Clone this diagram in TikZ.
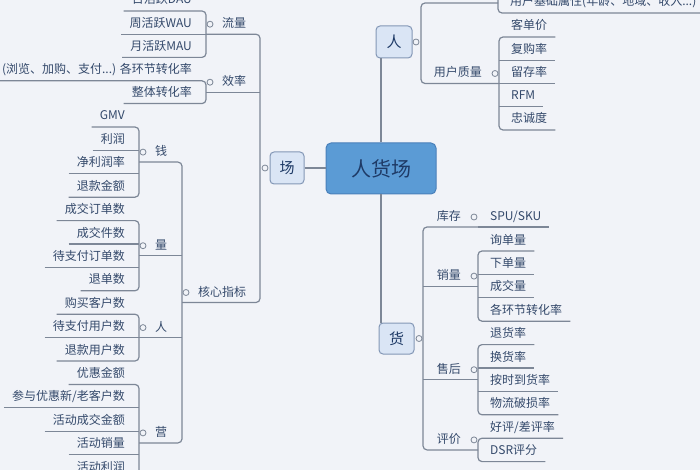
\documentclass[tikz,border=0pt]{standalone}
\usepackage{fontspec}
\setmainfont{Noto Sans CJK SC}
\definecolor{bgc}{HTML}{F1F3F8}
\definecolor{lncol}{HTML}{7D8797}
\definecolor{txc}{HTML}{34496B}
\definecolor{hubfill}{HTML}{5B9BD5}
\definecolor{hubdraw}{HTML}{4A80BA}
\definecolor{hubtx}{HTML}{1E3A66}
\definecolor{boxfill}{HTML}{DAE5F5}
\definecolor{boxdraw}{HTML}{8397B6}
\tikzset{
  lnk/.style={draw=lncol, line width=1.2pt, rounded corners=4pt},
  lt/.style={font=\fontsize{12}{14}\selectfont, text=txc, inner sep=0pt, text height=0.85em, text depth=0.15em},
  dot/.style={circle, draw=lncol, fill=bgc, line width=0.8pt, minimum size=6pt, inner sep=0pt},
  hubbox/.style={draw=hubdraw, fill=hubfill, line width=1pt, rounded corners=5pt, minimum width=110pt, minimum height=51pt, font=\fontsize{20}{24}\selectfont, text=hubtx},
  sbox/.style={draw=boxdraw, fill=boxfill, line width=1pt, rounded corners=4pt, minimum width=35pt, minimum height=32pt, font=\fontsize{15}{18}\selectfont, text=hubtx}
}
\newcommand\LLeaf[4]{%
  \node[lt, anchor=east] (#1) at ({#2-14},{#3-10.5}) {#4};
  \path (#1.west) ++(-8,10.5) coordinate (#1-u);
  \coordinate (#1-b) at (#2,#3);}
\newcommand\RLeaf[4]{%
  \node[lt, anchor=west] (#1) at ({#2+12},{#3-10.5}) {#4};
  \path (#1.east) ++(8,10.5) coordinate (#1-u);
  \coordinate (#1-b) at (#2,#3);}
\newcommand\LPar[5]{%
  \node[lt, anchor=west] (#1) at ({#2+16},{#4-10}) {#5};
  \node[dot] (#1-o) at ({#2+4},{#4-10}) {};
  \coordinate (#1-b) at (#2,#4);
  \coordinate (#1-p) at (#3,#4);}
\newcommand\RPar[5]{%
  \node[lt, anchor=east] (#1) at ({#2-17},{#4-10}) {#5};
  \node[dot] (#1-o) at ({#2-4},{#4-10}) {};
  \coordinate (#1-b) at (#2,#4);
  \coordinate (#1-p) at (#3,#4);}
\begin{document}
\begin{tikzpicture}[x=1pt,y=-1pt]
\useasboundingbox (0,0) rectangle (700,470);
\fill[bgc] (0,0) rectangle (700,470);
\clip (0,0) rectangle (700,470);

% ---------- centre ----------
\node[hubbox] (hub) at (381,168.5) {人货场};
\node[sbox, minimum width=34pt] (chang) at (287,168) {场};
\node[sbox, minimum width=36pt] (ren) at (394,42) {人};
\node[sbox, minimum height=31pt] (huo) at (396.5,338.5) {货};
\draw[lnk] (chang.east) -- (chang.east -| hub.west);
\draw[lnk] (hub.north) -- (hub.north |- ren.south);
\draw[lnk] (hub.south) -- (hub.south |- huo.north);
\node[dot] (chang-o) at (265,168) {};
\node[dot] (ren-o) at (416,42) {};
\node[dot] (huo-o) at (419,338.5) {};

% ---------- 场 : 流量 ----------
\LLeaf{dau}{206}{11}{日活跃DAU}
\LLeaf{wau}{206}{34.2}{周活跃WAU}
\LLeaf{mau}{206}{57.4}{月活跃MAU}
\LPar{flow}{206}{260}{34.2}{流量}
\draw[lnk] (dau-u) -- (dau-b) -- (mau-b) -- (mau-u);
\draw[lnk] (wau-u) -- (wau-b);

% ---------- 场 : 效率 ----------
\LLeaf{hjz}{206}{80.8}{(浏览、加购、支付...) 各环节转化率}
\LLeaf{ztz}{206}{103.6}{整体转化率}
\LPar{eff}{206}{260}{92.2}{效率}
\draw[lnk] (hjz-u) -- (hjz-b) -- (ztz-b) -- (ztz-u);
\draw[lnk] (eff-b) -- (eff-p);

% ---------- 场 : 核心指标 ----------
\LPar{core}{182}{260}{302.5}{核心指标}
\draw[lnk] (flow-b) -- (flow-p) -- (core-p) -- (core-b);

% 钱
\LLeaf{gmv}{139}{127}{GMV}
\LLeaf{lr}{139}{150.4}{利润}
\LLeaf{jlr}{139}{173.8}{净利润率}
\LLeaf{tkje}{139}{197.2}{退款金额}
\LPar{money}{139}{182}{162.1}{钱}
\draw[lnk] (gmv-u) -- (gmv-b) -- (tkje-b) -- (tkje-u);
\draw[lnk] (lr-u) -- (lr-b);
\draw[lnk] (jlr-u) -- (jlr-b);

% 量
\LLeaf{cjdd}{139}{220.6}{成交订单数}
\LLeaf{cjjs}{139}{244}{成交件数}
\LLeaf{dzfdd}{139}{267.4}{待支付订单数}
\LLeaf{tds}{139}{290.8}{退单数}
\LPar{qty}{139}{182}{255.7}{量}
\draw[lnk] (cjdd-u) -- (cjdd-b) -- (tds-b) -- (tds-u);
\draw[lnk] (cjjs-u) -- (cjjs-b);
\draw[lnk] (dzfdd-u) -- (dzfdd-b);

% 人 (left)
\LLeaf{gmkh}{139}{314.2}{购买客户数}
\LLeaf{dzfyh}{139}{337.6}{待支付用户数}
\LLeaf{tkyh}{139}{361}{退款用户数}
\LPar{ppl}{139}{182}{337.6}{人}
\draw[lnk] (gmkh-u) -- (gmkh-b) -- (tkyh-b) -- (tkyh-u);
\draw[lnk] (dzfyh-u) -- (dzfyh-b);

% 营
\LLeaf{yhje}{139}{384.4}{优惠金额}
\LLeaf{cyyh}{139}{407.8}{参与优惠新/老客户数}
\LLeaf{hdcj}{139}{431.2}{活动成交金额}
\LLeaf{hdxl}{139}{454.6}{活动销量}
\LLeaf{hdlr}{139}{478}{活动利润}
\LPar{mkt}{139}{182}{442.9}{营}
\coordinate (mkt-end) at (139,520);
\draw[lnk] (yhje-u) -- (yhje-b) -- (mkt-end);
\draw[lnk] (cyyh-u) -- (cyyh-b);
\draw[lnk] (hdcj-u) -- (hdcj-b);
\draw[lnk] (hdxl-u) -- (hdxl-b);
\draw[lnk] (hdlr-u) -- (hdlr-b);

\draw[lnk] (money-b) -- (money-p) -- (mkt-p) -- (mkt-b);
\draw[lnk] (qty-b) -- (qty-p);
\draw[lnk] (ppl-b) -- (ppl-p);

% ---------- 人 (right) ----------
\RLeaf{jcsx}{498}{13}{用户基础属性(年龄、地域、收入...)}
\coordinate (jcsx-top) at (498,-20);
\draw[lnk] (jcsx-top) -- (jcsx-b) -- (jcsx-u);
\coordinate (hid-b) at (498,3);
\coordinate (hid-p) at (421,3);
\RPar{uq}{499}{421}{83.5}{用户质量}
\draw[lnk] (hid-b) -- (hid-p) -- (uq-p) -- (uq-b);

\RLeaf{kdj}{499}{37}{客单价}
\RLeaf{fgl}{499}{60.3}{复购率}
\RLeaf{lcl}{499}{83.5}{留存率}
\RLeaf{rfm}{499}{106.8}{RFM}
\RLeaf{zcd}{499}{130}{忠诚度}
\draw[lnk] (kdj-u) -- (kdj-b) -- (zcd-b) -- (zcd-u);
\draw[lnk] (fgl-b) -- (fgl-u);
\draw[lnk] (lcl-b) -- (lcl-u);
\draw[lnk] (rfm-b) -- (rfm-u);

% ---------- 货 ----------
\RPar{kc}{478}{423}{227}{库存}
\RLeaf{spu}{478}{227}{SPU/SKU}
\draw[lnk] (spu-b) -- (spu-u);

\RPar{xl}{478}{423}{286.1}{销量}
\RLeaf{xdl}{478}{251}{询单量}
\RLeaf{xdan}{478}{274.4}{下单量}
\RLeaf{cjl}{478}{297.8}{成交量}
\RLeaf{ghj}{478}{321.2}{各环节转化率}
\draw[lnk] (xdl-u) -- (xdl-b) -- (ghj-b) -- (ghj-u);
\draw[lnk] (xdan-b) -- (xdan-u);
\draw[lnk] (cjl-b) -- (cjl-u);

\RPar{sh}{478}{423}{379.7}{售后}
\RLeaf{thl}{478}{344.6}{退货率}
\RLeaf{hhl}{478}{368}{换货率}
\RLeaf{asdh}{478}{391.4}{按时到货率}
\RLeaf{wlps}{478}{414.8}{物流破损率}
\draw[lnk] (thl-u) -- (thl-b) -- (wlps-b) -- (wlps-u);
\draw[lnk] (hhl-b) -- (hhl-u);
\draw[lnk] (asdh-b) -- (asdh-u);

\RPar{pj}{478}{423}{449.9}{评价}
\RLeaf{hpc}{478}{438.2}{好评/差评率}
\RLeaf{dsr}{478}{461.6}{DSR评分}
\draw[lnk] (hpc-u) -- (hpc-b) -- (dsr-b) -- (dsr-u);

\draw[lnk] (kc-b) -- (kc-p) -- (pj-p) -- (pj-b);
\draw[lnk] (xl-p) -- (xl-b);
\draw[lnk] (sh-p) -- (sh-b);
\end{tikzpicture}
\end{document}
